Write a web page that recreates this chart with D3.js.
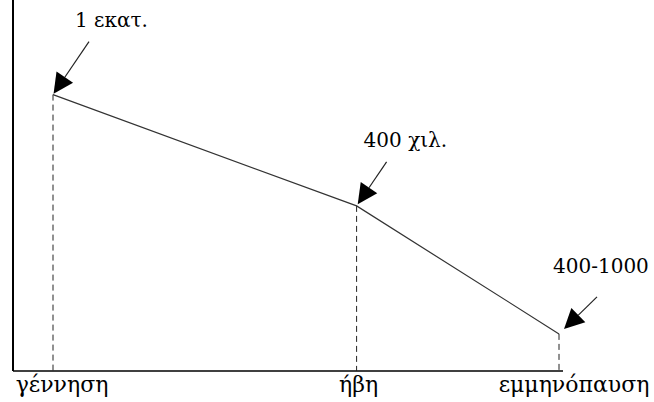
<!DOCTYPE html>
<html>
<head>
<meta charset="utf-8">
<script src="https://cdn.jsdelivr.net/npm/d3@7"></script>
<style>
  body { margin: 0; background: #fff; }
</style>
</head>
<body>
<svg id="chart"></svg>
<script>
// life stages along the x axis (schematic position) and follicle level (schematic)
const stages = ['γέννηση', 'ήβη', 'εμμηνόπαυση'];
const stagePos = [0, 6, 10];
const levels = [7.45, 4.45, 1.0];
const annotations = ['1 εκατ.', '400 χιλ.', '400-1000'];

const width = 654, height = 402;
const margin = { top: 0, right: 91, bottom: 31, left: 13 };
const serif = '"DejaVu Serif", serif';

const svg = d3.select('#chart')
  .attr('width', width)
  .attr('height', height);

const x = d3.scaleLinear()
  .domain([0, 10])
  .range([53, 559]);

const y = d3.scaleLinear()
  .domain([0, 10])
  .range([height - margin.bottom, 0]);

const data = stages.map((s, i) => ({ stage: s, pos: stagePos[i], level: levels[i], note: annotations[i] }));
const y0 = y(0);

// axes (plain lines, no ticks)
svg.append('line')
  .attr('x1', margin.left).attr('x2', margin.left)
  .attr('y1', 0).attr('y2', y0)
  .attr('stroke', '#000').attr('stroke-width', 2);

svg.append('line')
  .attr('x1', margin.left).attr('x2', x(10) + 4)
  .attr('y1', y0).attr('y2', y0)
  .attr('stroke', '#000').attr('stroke-width', 1.5);

// dashed drop lines
svg.selectAll('.drop')
  .data(data)
  .enter()
  .append('line')
  .attr('class', 'drop')
  .attr('x1', d => x(d.pos)).attr('x2', d => x(d.pos))
  .attr('y1', d => y(d.level)).attr('y2', y0)
  .attr('stroke', '#222').attr('stroke-width', 1)
  .attr('stroke-dasharray', '6,4');

// the declining line
const line = d3.line()
  .x(d => x(d.pos))
  .y(d => y(d.level));

svg.append('path')
  .datum(data)
  .attr('d', line)
  .attr('fill', 'none')
  .attr('stroke', '#333')
  .attr('stroke-width', 1.2);

// annotation arrows: shaft start offset, gap from the point, label offset
const arrowCfg = [
  { sx: 36, sy: -53, gap: 1, lx: 22, ly: -68 },
  { sx: 30, sy: -44, gap: 2, lx: 7, ly: -59 },
  { sx: 38, sy: -37, gap: 7, lx: -6, ly: -61 }
];

data.forEach((d, i) => {
  const c = arrowCfg[i];
  const px = x(d.pos), py = y(d.level);
  const len = Math.hypot(c.sx, c.sy);
  const ux = -c.sx / len, uy = -c.sy / len;
  const tipX = px - ux * c.gap, tipY = py - uy * c.gap;
  const headLen = 20, headW = 10;
  const bx = tipX - ux * headLen, by = tipY - uy * headLen;

  svg.append('line')
    .attr('x1', px + c.sx).attr('y1', py + c.sy)
    .attr('x2', bx).attr('y2', by)
    .attr('stroke', '#222').attr('stroke-width', 1.2);

  svg.append('path')
    .attr('d', d3.line()([
      [tipX, tipY],
      [bx - uy * headW, by + ux * headW],
      [bx + uy * headW, by - ux * headW]
    ]) + 'Z')
    .attr('fill', '#000');

  svg.append('text')
    .attr('x', px + c.lx)
    .attr('y', py + c.ly)
    .attr('font-family', serif)
    .attr('font-size', 20)
    .attr('fill', '#000')
    .text(d.note);
});

// stage labels under the axis
const labelDx = [9, 2, 15];
svg.selectAll('.stage')
  .data(data)
  .enter()
  .append('text')
  .attr('class', 'stage')
  .attr('x', (d, i) => x(d.pos) + labelDx[i])
  .attr('y', y0 + 21)
  .attr('text-anchor', 'middle')
  .attr('font-family', serif)
  .attr('font-size', 22)
  .attr('fill', '#000')
  .text(d => d.stage);
</script>
</body>
</html>
